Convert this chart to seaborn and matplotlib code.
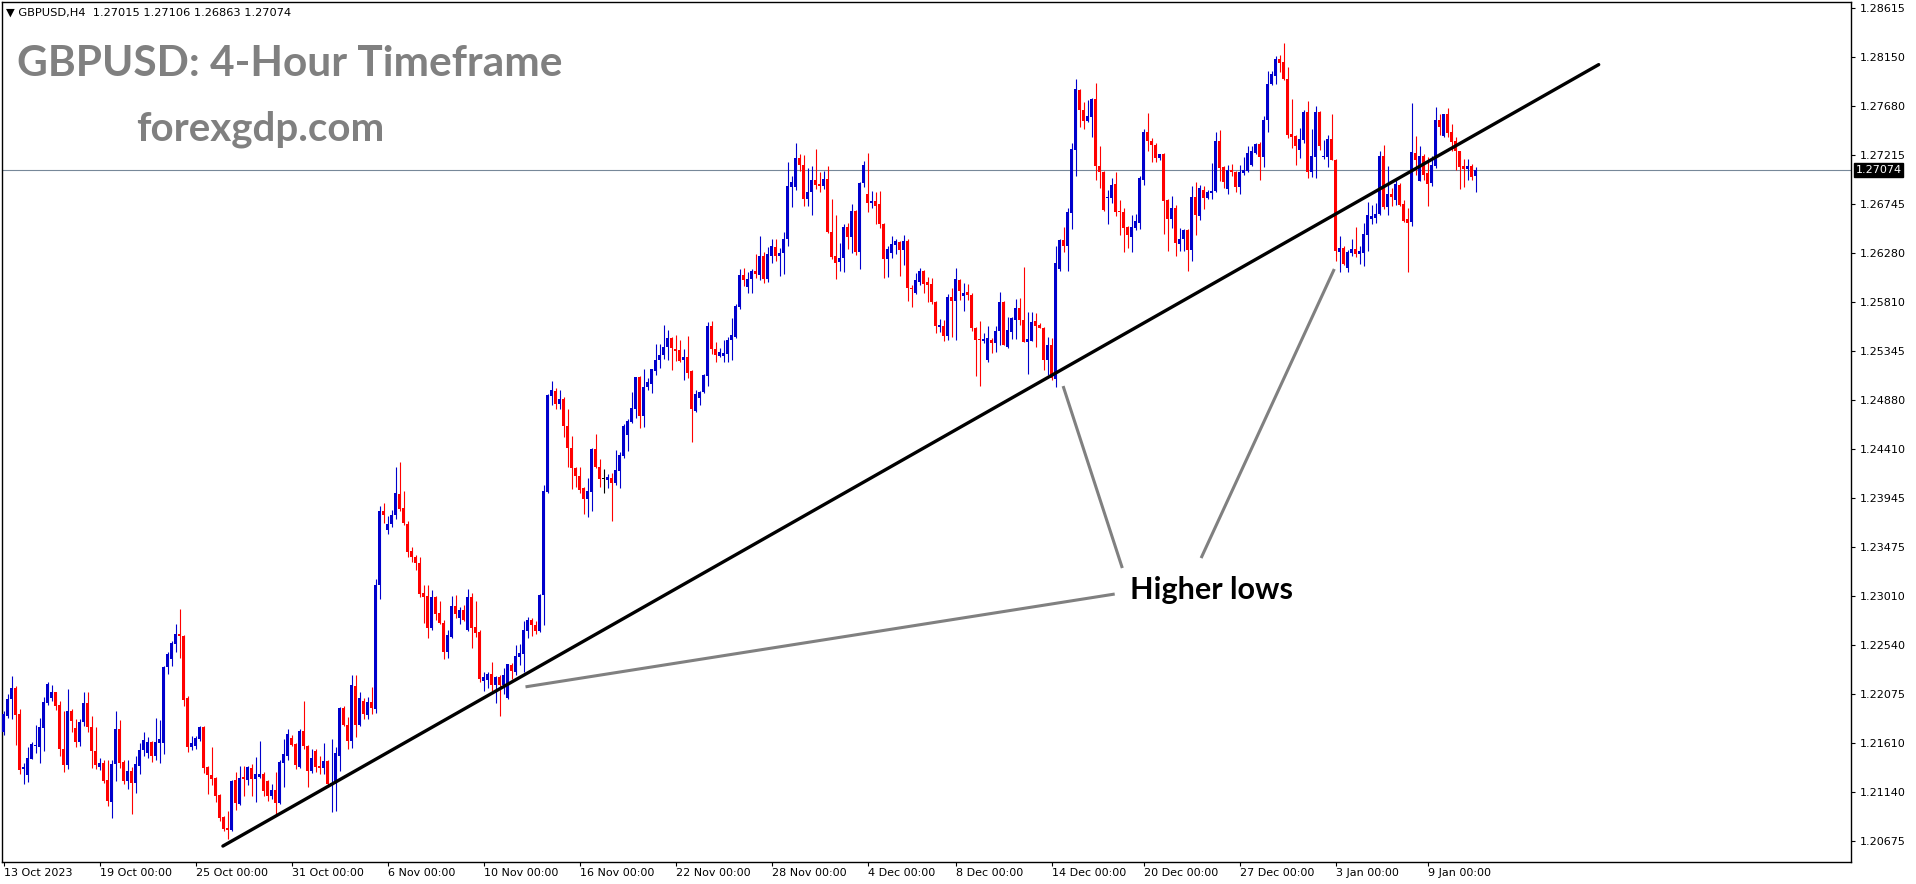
import numpy as np
import matplotlib
matplotlib.use("Agg")
import matplotlib.pyplot as plt
import matplotlib.transforms as mtransforms
import seaborn as sns

# GBPUSD H4 candles, prices in pips (12189 -> 1.2189)
opens = [
    # 13 Oct -> 19 Oct
    12171, 12187, 12203, 12213, 12189, 12136, 12130, 12146, 12158, 12157,
    12175, 12199, 12204, 12210, 12197, 12155, 12140, 12191, 12175, 12162,
    12181, 12199, 12176, 12153, 12138, 12142, 12126, 12105, 12141, 12174,
    12143, 12125, 12134, 12123, 12139, 12154, 12151,
    12162, 12149, 12161, 12161, 12233, 12241, 12255, 12265, 12263, 12204,
    12157, 12158, 12165, 12176, 12138, 12130, 12128, 12111, 12090, 12080,
    12078, 12126, 12103, 12129, 12126, 12137, 12127, 12129, 12131, 12125,
    12110, 12116, 12104, 12142, 12149, 12166, 12160, 12138,
    12172, 12158, 12134, 12153, 12139, 12137, 12144, 12121, 12122, 12149,
    12194, 12178, 12163, 12215, 12178, 12201, 12188, 12200, 12193, 12312,
    12382, 12364, 12370, 12378, 12398, 12385, 12370, 12344, 12338, 12333,
    12304, 12301, 12271, 12300, 12285, 12275, 12248,
    12262, 12292, 12280, 12288, 12269, 12300, 12272, 12267, 12220, 12221,
    12227, 12216, 12224, 12216, 12204, 12235, 12229, 12243, 12246, 12268,
    12278, 12273, 12268, 12302, 12400, 12492, 12497, 12484, 12489, 12463,
    12442, 12423, 12416, 12404, 12394, 12400, 12441, 12424,
    12413, 12412, 12414, 12409, 12420, 12435, 12455, 12467, 12479, 12510,
    12473, 12500, 12503, 12516, 12526, 12531, 12539, 12547, 12537, 12536,
    12526, 12529, 12516, 12478, 12490, 12496, 12511, 12559, 12537, 12530,
    12530, 12532, 12545, 12548, 12577, 12607, 12596,
    12603, 12611, 12607, 12625, 12603, 12625, 12634, 12625, 12628, 12642,
    12691, 12691, 12719, 12712, 12680, 12686, 12698, 12694, 12692, 12699,
    12648, 12625, 12620, 12623, 12653, 12643, 12668, 12629, 12695, 12684,
    12676, 12678, 12675, 12656, 12622, 12628, 12636, 12639,
    12631, 12640, 12595, 12590, 12601, 12611, 12601, 12599, 12581, 12558,
    12559, 12549, 12586, 12582, 12602, 12587, 12591, 12588, 12557, 12546,
    12544, 12526, 12545, 12542, 12554, 12581, 12539, 12553, 12564, 12576,
    12564, 12543, 12544, 12563, 12560, 12557, 12526,
    12540, 12508, 12613, 12641, 12635, 12666, 12726, 12784, 12765, 12754,
    12758, 12775, 12711, 12705, 12681, 12681, 12694, 12668, 12667, 12653,
    12643, 12652, 12657, 12698, 12744, 12735, 12731, 12719, 12723, 12679,
    12661, 12671, 12637, 12642, 12650, 12631, 12682, 12663,
    12688, 12681, 12685, 12687, 12735, 12710, 12689, 12707, 12705, 12691,
    12704, 12706, 12712, 12724, 12732, 12720, 12755, 12789, 12797, 12813,
    12810, 12794, 12742, 12740, 12726, 12736, 12763, 12705, 12720, 12763,
    12720, 12720, 12737, 12717, 12629, 12633, 12614,
    12628, 12632, 12627, 12628, 12645, 12661, 12662, 12665, 12721, 12672,
    12684, 12679, 12693, 12675, 12661, 12658, 12724, 12697, 12721, 12704,
    12695, 12711, 12755, 12740, 12761, 12744, 12735, 12725, 12711, 12708,
    12711, 12701.5,
]
highs = [
    12191, 12208, 12225, 12215, 12193, 12142, 12157, 12162, 12178, 12185,
    12205, 12219, 12216, 12210, 12201, 12191, 12212, 12193, 12184, 12184,
    12210, 12210, 12187, 12176, 12147, 12145, 12145, 12145, 12191, 12183,
    12145, 12145, 12138, 12149, 12161, 12171, 12167,
    12163, 12185, 12183, 12234, 12248, 12258, 12274, 12289, 12264, 12206,
    12168, 12168, 12177, 12177, 12139, 12157, 12129, 12112, 12091, 12096,
    12126, 12133, 12139, 12139, 12139, 12141, 12148, 12163, 12133, 12126,
    12122, 12133, 12145, 12165, 12174, 12169, 12161, 12174,
    12201, 12159, 12155, 12155, 12149, 12161, 12145, 12165, 12157, 12195,
    12196, 12186, 12226, 12226, 12210, 12204, 12205, 12214, 12317, 12387,
    12390, 12377, 12383, 12424, 12429, 12401, 12373, 12348, 12340, 12338,
    12312, 12312, 12307, 12301, 12296, 12278, 12269,
    12301, 12302, 12291, 12293, 12308, 12304, 12296, 12269, 12229, 12229,
    12238, 12225, 12226, 12232, 12236, 12237, 12254, 12255, 12277, 12281,
    12280, 12277, 12303, 12407, 12494, 12506, 12499, 12498, 12491, 12479,
    12454, 12424, 12424, 12405, 12414, 12442, 12456, 12432,
    12422, 12417, 12418, 12440, 12438, 12465, 12470, 12496, 12510, 12511,
    12518, 12509, 12518, 12541, 12541, 12560, 12555, 12548, 12550, 12545,
    12537, 12549, 12517, 12498, 12497, 12513, 12562, 12563, 12543, 12538,
    12545, 12548, 12566, 12580, 12613, 12614, 12610,
    12613, 12627, 12644, 12629, 12634, 12642, 12642, 12633, 12648, 12715,
    12702, 12733, 12723, 12722, 12709, 12711, 12727, 12705, 12706, 12711,
    12680, 12664, 12638, 12656, 12657, 12675, 12669, 12696, 12716, 12724,
    12687, 12686, 12687, 12657, 12635, 12644, 12642, 12640,
    12645, 12642, 12598, 12609, 12614, 12612, 12605, 12604, 12582, 12565,
    12564, 12589, 12595, 12614, 12603, 12600, 12599, 12590, 12558, 12563,
    12552, 12559, 12547, 12559, 12591, 12582, 12567, 12567, 12584, 12585,
    12615, 12572, 12572, 12571, 12561, 12558, 12548,
    12547, 12635, 12642, 12653, 12671, 12733, 12794, 12785, 12772, 12774,
    12776, 12790, 12730, 12706, 12688, 12700, 12705, 12679, 12671, 12654,
    12664, 12665, 12702, 12746, 12762, 12738, 12733, 12723, 12724, 12680,
    12683, 12674, 12652, 12651, 12651, 12692, 12696, 12693,
    12692, 12688, 12714, 12744, 12745, 12711, 12712, 12713, 12706, 12712,
    12720, 12730, 12730, 12733, 12734, 12759, 12802, 12802, 12816, 12817,
    12828, 12806, 12775, 12741, 12747, 12765, 12773, 12746, 12768, 12764,
    12736, 12741, 12761, 12718, 12644, 12635, 12631,
    12642, 12653, 12635, 12657, 12677, 12674, 12676, 12725, 12731, 12711,
    12690, 12698, 12695, 12679, 12671, 12771, 12740, 12730, 12723, 12720,
    12721, 12767, 12761, 12761, 12766, 12751, 12739, 12725, 12718, 12718,
    12713, 12710.6,
]
lows = [
    12169, 12185, 12184, 12159, 12131, 12122, 12124, 12146, 12151, 12142,
    12153, 12197, 12201, 12192, 12149, 12133, 12136, 12171, 12157, 12158,
    12177, 12171, 12137, 12136, 12135, 12123, 12101, 12089, 12125, 12137,
    12122, 12117, 12093, 12113, 12131, 12149, 12147,
    12143, 12145, 12142, 12150, 12227, 12234, 12248, 12242, 12196, 12152,
    12154, 12155, 12163, 12132, 12112, 12121, 12105, 12087, 12077, 12069,
    12077, 12097, 12102, 12110, 12121, 12110, 12105, 12128, 12110, 12106,
    12108, 12093, 12103, 12119, 12145, 12158, 12136, 12137,
    12155, 12119, 12132, 12133, 12131, 12131, 12119, 12095, 12096, 12134,
    12177, 12155, 12156, 12167, 12177, 12184, 12184, 12189, 12190, 12298,
    12371, 12360, 12367, 12375, 12382, 12369, 12338, 12334, 12326, 12300,
    12275, 12261, 12269, 12278, 12274, 12241, 12242,
    12261, 12280, 12274, 12277, 12268, 12252, 12262, 12219, 12211, 12213,
    12211, 12199, 12187, 12208, 12203, 12222, 12226, 12235, 12229, 12261,
    12263, 12265, 12267, 12273, 12399, 12483, 12479, 12479, 12453, 12424,
    12403, 12405, 12399, 12379, 12376, 12382, 12423, 12405,
    12399, 12404, 12373, 12407, 12404, 12433, 12439, 12466, 12471, 12461,
    12462, 12498, 12495, 12512, 12519, 12527, 12526, 12517, 12525, 12524,
    12507, 12509, 12448, 12477, 12483, 12495, 12501, 12532, 12524, 12529,
    12524, 12524, 12526, 12547, 12575, 12597, 12590,
    12590, 12604, 12602, 12600, 12601, 12619, 12621, 12606, 12608, 12635,
    12672, 12688, 12706, 12673, 12673, 12664, 12689, 12686, 12689, 12647,
    12622, 12603, 12611, 12610, 12632, 12628, 12626, 12613, 12691, 12667,
    12671, 12656, 12652, 12604, 12605, 12623, 12627, 12606,
    12617, 12582, 12577, 12589, 12598, 12590, 12581, 12580, 12552, 12553,
    12544, 12545, 12548, 12545, 12583, 12573, 12583, 12554, 12511, 12501,
    12542, 12524, 12533, 12534, 12540, 12540, 12538, 12546, 12546, 12560,
    12543, 12513, 12544, 12539, 12557, 12517, 12512,
    12507, 12500, 12611, 12629, 12611, 12651, 12702, 12748, 12746, 12753,
    12739, 12698, 12690, 12668, 12656, 12676, 12663, 12645, 12629, 12633,
    12629, 12650, 12651, 12693, 12725, 12715, 12715, 12717, 12646, 12630,
    12652, 12625, 12630, 12630, 12611, 12621, 12645, 12660,
    12670, 12680, 12680, 12686, 12697, 12690, 12684, 12702, 12686, 12684,
    12703, 12705, 12711, 12723, 12698, 12710, 12744, 12788, 12789, 12801,
    12793, 12738, 12728, 12712, 12719, 12733, 12700, 12701, 12700, 12726,
    12718, 12710, 12717, 12621, 12610, 12617, 12610,
    12625, 12624, 12618, 12616, 12630, 12656, 12657, 12664, 12670, 12664,
    12673, 12674, 12673, 12658, 12610, 12654, 12703, 12697, 12698, 12673,
    12692, 12709, 12741, 12739, 12739, 12725, 12707, 12689, 12691, 12698,
    12698, 12686.3,
]
closes = [
    12189, 12203, 12213, 12188, 12135, 12138, 12147, 12160, 12159, 12176,
    12200, 12217, 12210, 12196, 12155, 12140, 12191, 12182, 12162, 12181,
    12199, 12176, 12153, 12140, 12142, 12125, 12106, 12141, 12174, 12142,
    12125, 12134, 12123, 12141, 12154, 12164, 12162,
    12149, 12162, 12165, 12233, 12246, 12256, 12265, 12263, 12202, 12157,
    12161, 12166, 12176, 12137, 12130, 12127, 12110, 12089, 12079, 12078,
    12125, 12104, 12128, 12127, 12138, 12127, 12131, 12131, 12115, 12110,
    12116, 12104, 12143, 12150, 12170, 12159, 12140, 12172,
    12158, 12134, 12147, 12138, 12137, 12144, 12122, 12123, 12151, 12194,
    12178, 12163, 12216, 12178, 12204, 12189, 12200, 12194, 12312, 12382,
    12378, 12370, 12378, 12399, 12384, 12371, 12343, 12338, 12333, 12303,
    12300, 12271, 12300, 12284, 12275, 12248, 12264,
    12292, 12284, 12288, 12278, 12300, 12271, 12266, 12222, 12224, 12227,
    12216, 12224, 12216, 12226, 12236, 12230, 12244, 12247, 12269, 12278,
    12273, 12268, 12302, 12401, 12493, 12498, 12484, 12489, 12463, 12442,
    12423, 12416, 12402, 12394, 12401, 12441, 12424, 12413,
    12413, 12415, 12409, 12421, 12436, 12463, 12468, 12480, 12510, 12473,
    12500, 12505, 12518, 12526, 12531, 12539, 12547, 12538, 12535, 12525,
    12529, 12514, 12479, 12494, 12496, 12512, 12559, 12537, 12531, 12534,
    12533, 12545, 12550, 12578, 12607, 12602, 12603,
    12611, 12608, 12625, 12603, 12627, 12635, 12625, 12628, 12642, 12692,
    12696, 12719, 12712, 12680, 12686, 12698, 12693, 12692, 12699, 12648,
    12624, 12619, 12623, 12653, 12643, 12668, 12629, 12695, 12712, 12676,
    12678, 12673, 12656, 12622, 12632, 12637, 12640, 12631,
    12640, 12595, 12594, 12602, 12611, 12599, 12598, 12581, 12559, 12560,
    12549, 12586, 12582, 12603, 12592, 12590, 12588, 12557, 12545, 12545,
    12546, 12547, 12542, 12554, 12581, 12540, 12555, 12566, 12576, 12564,
    12543, 12546, 12562, 12559, 12557, 12526, 12540,
    12509, 12619, 12641, 12635, 12667, 12727, 12785, 12765, 12754, 12759,
    12775, 12711, 12705, 12669, 12682, 12693, 12667, 12667, 12652, 12645,
    12653, 12659, 12700, 12744, 12735, 12731, 12719, 12723, 12678, 12661,
    12671, 12638, 12642, 12650, 12631, 12682, 12664, 12690,
    12681, 12686, 12687, 12735, 12709, 12696, 12707, 12705, 12691, 12705,
    12707, 12724, 12725, 12732, 12720, 12755, 12789, 12799, 12813, 12809,
    12794, 12741, 12739, 12730, 12737, 12763, 12705, 12721, 12763, 12730,
    12721, 12737, 12717, 12630, 12633, 12618, 12629,
    12632, 12627, 12630, 12646, 12664, 12663, 12665, 12721, 12672, 12684,
    12682, 12694, 12674, 12659, 12657, 12724, 12717, 12721, 12703, 12694,
    12712, 12755, 12748, 12761, 12743, 12734, 12725, 12710, 12708, 12711,
    12701, 12707.4,
]

date_labels = ["13 Oct 2023", "19 Oct 00:00", "25 Oct 00:00", "31 Oct 00:00",
               "6 Nov 00:00", "10 Nov 00:00", "16 Nov 00:00", "22 Nov 00:00",
               "28 Nov 00:00", "4 Dec 00:00", "8 Dec 00:00", "14 Dec 00:00",
               "20 Dec 00:00", "27 Dec 00:00", "3 Jan 00:00", "9 Jan 00:00"]
date_idx = [0, 24, 48, 72, 96, 120, 144, 168, 192, 216, 238, 262, 285, 309, 333, 356]

price_ticks = [1.28615, 1.28150, 1.27680, 1.27215, 1.26745, 1.26280, 1.25810,
               1.25345, 1.24880, 1.24410, 1.23945, 1.23475, 1.23010, 1.22540,
               1.22075, 1.21610, 1.21140, 1.20675]

# trend line through the higher lows (bar index, price)
trend_x = [54.85, 398.8]
trend_y = [1.20627, 1.28078]

# "Higher lows" callouts: from label to each low
low_x = [130.5, 264.9, 332.7]
low_y = [1.22145, 1.25013, 1.26129]
label_x = [277.8, 279.7, 299.4]
label_y = [1.23030, 1.23278, 1.23373]

BLUE = "#0000CC"
RED = "#FF0000"

sns.set_theme(style="white")
plt.rcParams["font.family"] = ["DejaVu Sans"]

n = min(len(opens), len(highs), len(lows), len(closes))
o = np.array(opens[:n]) / 1e4
h = np.array(highs[:n]) / 1e4
l = np.array(lows[:n]) / 1e4
c = np.array(closes[:n]) / 1e4
idx = np.arange(n)
colors = np.where(c > o, BLUE, np.where(c < o, RED, "black"))

W, H = 1916, 884
fig = plt.figure(figsize=(W / 100, H / 100), dpi=100)
fig.patch.set_facecolor("white")
ax = fig.add_axes([2 / W, 22 / H, 1849 / W, 860 / H])
ax.set_facecolor("white")

# candles
ax.vlines(idx, l, h, colors=colors, linewidth=0.8, zorder=2)
body_lo = np.minimum(o, c)
body_h = np.maximum(np.abs(c - o), 0.0001)
ax.bar(idx, body_h, bottom=body_lo, width=0.75, color=colors, linewidth=0, zorder=3)

# current price line
last = c[-1]
ax.axhline(last, color="#778899", linewidth=0.8, zorder=1)

# trend line
sns.lineplot(x=trend_x, y=trend_y, ax=ax, color="black", linewidth=2.4,
             sort=False, zorder=4)

# callout lines
for x0, y0, x1, y1 in zip(label_x, label_y, low_x, low_y):
    ax.plot([x0, x1], [y0, y1], color="#808080", linewidth=2.2,
            solid_capstyle="butt", zorder=4)
ax.text(281.7, 1.22982, "Higher lows", fontsize=22, fontweight="bold",
        family=["Lato", "DejaVu Sans"], color="black", va="baseline", ha="left")

ax.set_xlim(-0.375, 461.875)
ax.set_ylim(1.20475, 1.28675)

# axes styling
for s in ax.spines.values():
    s.set_color("black")
    s.set_linewidth(1.0)
ax.yaxis.tick_right()
ax.set_yticks(price_ticks)
ax.set_yticklabels([f"{v:.5f}" for v in price_ticks])
ax.set_xticks(date_idx)
ax.set_xticklabels(date_labels)
for lab in ax.get_xticklabels():
    lab.set_ha("left")
ax.tick_params(axis="y", which="both", right=True, left=False, length=3,
               width=0.8, pad=3, labelsize=8, colors="black")
ax.tick_params(axis="x", which="both", bottom=True, length=3, width=0.8,
               pad=1.5, labelsize=8, colors="black")
ax.grid(False)
ax.set_xlabel("")
ax.set_ylabel("")

# price tag on the right axis
trans = mtransforms.blended_transform_factory(ax.transAxes, ax.transData)
ax.text(1.0025, last, f"{last:.5f}", transform=trans, fontsize=8, color="white",
        va="center", ha="left",
        bbox=dict(boxstyle="square,pad=0.15", facecolor="black", edgecolor="black"))

# header and titles
fig.text(6 / W, 1 - 13 / H, "\u25bc GBPUSD,H4  1.27015 1.27106 1.26863 1.27074",
         fontsize=8.2, color="black", va="center", ha="left")
fig.text(17 / W, 1 - 76 / H, "GBPUSD: 4-Hour Timeframe", fontsize=30.5,
         fontweight="bold", family=["Lato", "DejaVu Sans"], color="#808080",
         va="baseline", ha="left")
fig.text(136 / W, 1 - 140 / H, "forexgdp.com", fontsize=29,
         fontweight="bold", family=["Lato", "DejaVu Sans"], color="#808080",
         va="baseline", ha="left")

fig.savefig("out.png", dpi=100)
